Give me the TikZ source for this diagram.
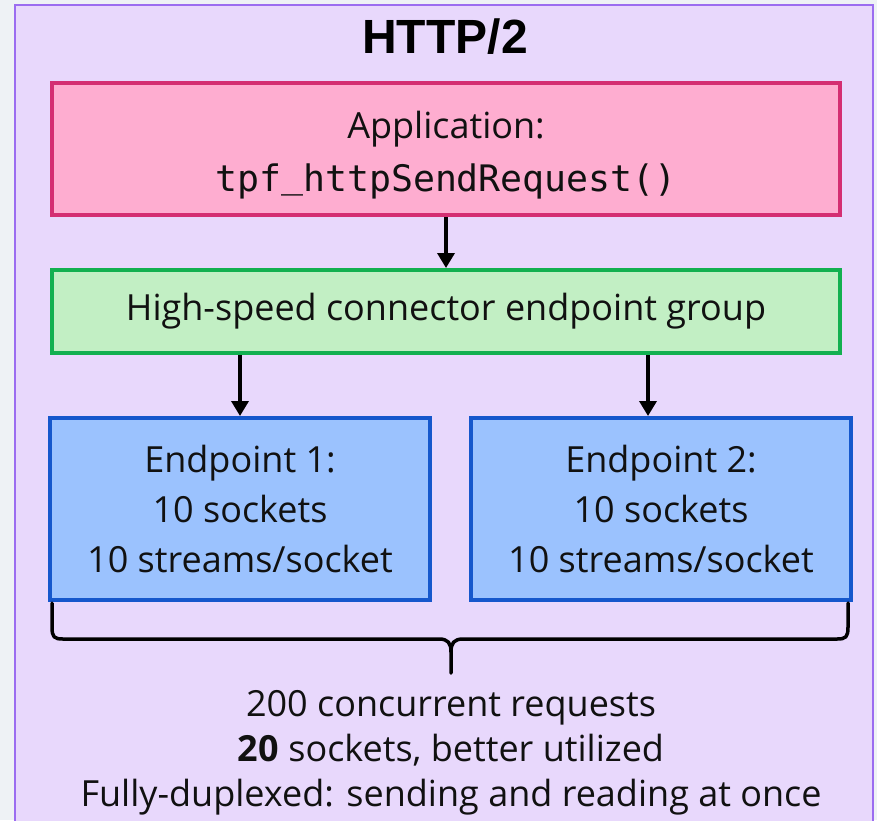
\documentclass[tikz,border=0pt]{standalone}
\usepackage{fontspec}
\setmainfont{Open Sans}
\newfontfamily\titlefont{Liberation Sans}
\newfontfamily\codefont{DejaVu Sans Mono}
\usetikzlibrary{arrows.meta}
\definecolor{outerbg}{HTML}{EEF2F5}
\definecolor{panelfill}{HTML}{E8D8FC}
\definecolor{paneldraw}{HTML}{9B6DF0}
\definecolor{pinkfill}{HTML}{FEADD0}
\definecolor{pinkdraw}{HTML}{D42E72}
\definecolor{greenfill}{HTML}{C2EFC4}
\definecolor{greendraw}{HTML}{12B050}
\definecolor{bluefill}{HTML}{9BC2FE}
\definecolor{bluedraw}{HTML}{1557CC}
\definecolor{ink}{HTML}{111111}
\tikzset{
  box/.style={draw, line width=4pt, align=center, inner sep=0pt, text=ink,
    font=\fontsize{36}{50}\selectfont},
  appbox/.style={box, fill=pinkfill, draw=pinkdraw, minimum width=788pt, minimum height=132pt},
  groupbox/.style={box, fill=greenfill, draw=greendraw, minimum width=788pt, minimum height=83pt},
  epbox/.style={box, fill=bluefill, draw=bluedraw, minimum width=380pt, minimum height=182pt},
  arr/.style={draw=black, line width=3.5pt, -{Triangle[width=17pt,length=15pt]}},
  bracepath/.style={draw=black, line width=3.5pt, line cap=round, line join=round},
}
\begin{document}
\begin{tikzpicture}[x=1pt,y=-1pt]
\useasboundingbox (0,0) rectangle (877,820);
\fill[outerbg] (0,0) rectangle (877,820);
\draw[fill=panelfill, draw=paneldraw, line width=1.5pt] (15,5) rectangle (873,835);

\node[text=black, font=\titlefont\bfseries\fontsize{48}{50}\selectfont] (title) at (445,37) {HTTP/2};

\node[appbox] (app) at (446,149) {\rule{0pt}{40pt}Application:\\[3pt]{\codefont\fontsize{36.5}{50}\selectfont tpf\raisebox{4pt}{\symbol{95}}httpSendRequest()}};
\node[groupbox] (group) at (446,311.5) {High-speed connector endpoint group};
\node[epbox] (ep1) at (240,509) {Endpoint 1:\\10 sockets\\10 streams/socket};
\node[epbox] (ep2) at (661,509) {Endpoint 2:\\10 sockets\\10 streams/socket};

\draw[arr] (app.south) -- (group.north);
\draw[arr] (group.south -| ep1.north) -- (ep1.north);
\draw[arr] ([xshift=-13pt]ep2.north |- group.south) -- ([xshift=-13pt]ep2.north);

\coordinate (braceL) at (52,603);
\coordinate (braceR) at (848,603);
\coordinate (braceTip) at (451,673);
\path[bracepath] (braceL) -- (52,627) .. controls (52,637) and (54,639) .. (63,639) -- (439,639) .. controls (448,639) and (451,643) .. (451,652) -- (braceTip);
\path[bracepath] (451,652) .. controls (451,643) and (454,639) .. (463,639) -- (837,639) .. controls (846,639) and (848,637) .. (848,627) -- (braceR);

\node[align=center, text=ink, font=\fontsize{36}{45}\selectfont] (summary) at (451,753)
  {200 concurrent requests\\\textbf{20} sockets, better utilized\\Fully-duplexed: sending and reading at once};
\end{tikzpicture}
\end{document}
